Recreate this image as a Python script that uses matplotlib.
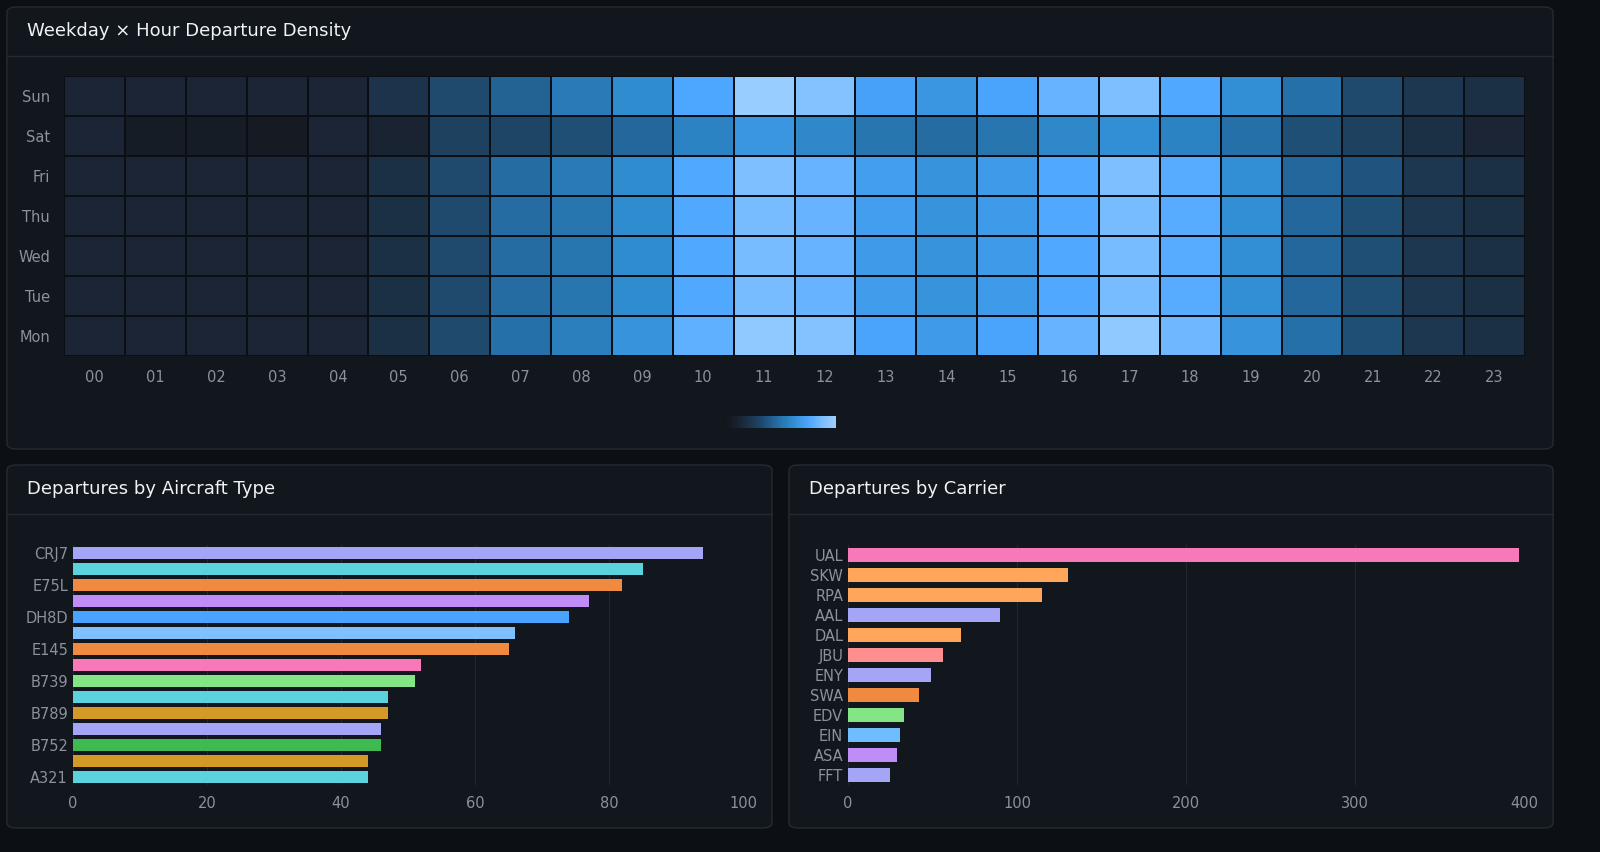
import matplotlib
matplotlib.use("Agg")
import matplotlib.pyplot as plt
import numpy as np
from matplotlib.colors import LinearSegmentedColormap
from matplotlib.patches import FancyBboxPatch

# ---- data ----
days = ["Mon", "Tue", "Wed", "Thu", "Fri", "Sat", "Sun"]
hours = [f"{h:02d}" for h in range(24)]
density = [
    [12, 12, 12, 12, 12, 18, 32, 48, 54, 64, 80, 95, 90, 74, 68, 74, 82, 95, 84, 64, 48, 34, 22, 18],  # Mon
    [12, 12, 12, 12, 12, 18, 32, 46, 50, 60, 76, 86, 82, 69, 64, 68, 76, 86, 78, 62, 44, 34, 22, 18],  # Tue
    [12, 12, 12, 12, 12, 18, 32, 46, 50, 60, 76, 86, 82, 68, 64, 68, 76, 86, 78, 62, 44, 34, 22, 18],  # Wed
    [12, 12, 12, 12, 12, 18, 32, 46, 50, 60, 76, 86, 82, 70, 64, 68, 76, 86, 78, 62, 44, 34, 22, 18],  # Thu
    [12, 12, 12, 12, 12, 18, 32, 46, 52, 60, 76, 88, 82, 70, 64, 68, 76, 88, 78, 62, 44, 36, 22, 18],  # Fri
    [12, 4, 4, 2, 12, 10, 28, 30, 34, 44, 56, 66, 58, 50, 46, 50, 58, 62, 56, 48, 34, 28, 18, 12],     # Sat
    [12, 12, 12, 12, 12, 20, 32, 42, 52, 60, 75, 98, 90, 72, 66, 74, 82, 88, 76, 62, 48, 32, 22, 18],  # Sun
]

aircraft = ["CRJ7", "B738", "E75L", "A320", "DH8D", "E170", "E145", "A319",
            "B739", "B737", "B789", "B38M", "B752", "B772", "A321"]
aircraft_counts = [94, 85, 82, 77, 74, 66, 65, 52, 51, 47, 47, 46, 46, 44, 44]
aircraft_colors = ["#a5a5f5", "#5cd3dc", "#f08a40", "#bf8cf8", "#4aa3ff", "#7fc0ff",
                   "#f08a40", "#f779b8", "#84e584", "#5cd3dc", "#d49a26", "#a5a5f5",
                   "#3fba50", "#d49a26", "#5cd3dc"]

carriers = ["UAL", "SKW", "RPA", "AAL", "DAL", "JBU", "ENY", "SWA", "EDV", "EIN", "ASA", "FFT"]
carrier_counts = [397, 130, 115, 90, 67, 56, 49, 42, 33, 31, 29, 25]
carrier_colors = ["#f779b8", "#ffa65a", "#ffa65a", "#a5a5f5", "#ffa65a", "#ff8f8f",
                  "#a5a5f5", "#f08a40", "#84e584", "#6fbdff", "#bf8cf8", "#a5a5f5"]

BG = "#0c0f14"
PANEL = "#12161d"
BORDER = "#262b33"
TICK = "#8b929c"
W, H = 1600, 852

cmap = LinearSegmentedColormap.from_list("dens", [
    (0.0, "#14181f"), (0.12, "#1b2535"), (0.3, "#1e4566"), (0.45, "#246aa0"),
    (0.6, "#2f8ccf"), (0.75, "#4da6ff"), (0.88, "#7dbfff"), (1.0, "#9dd0ff")])

fig = plt.figure(figsize=(16, 8.52), dpi=100, facecolor=BG)


def rect(x0, y0, x1, y1):
    # pixel box (top-left origin) -> figure fraction [l, b, w, h]
    return [x0 / W, 1 - y1 / H, (x1 - x0) / W, (y1 - y0) / H]


def panel(x0, y0, x1, y1, title):
    l, b, w, h = rect(x0, y0, x1, y1)
    fig.patches.append(FancyBboxPatch((l, b), w, h, boxstyle="round,pad=0,rounding_size=0.006",
                                      transform=fig.transFigure, facecolor=PANEL,
                                      edgecolor=BORDER, lw=1, zorder=-10))
    fig.add_artist(plt.Line2D([l, l + w], [1 - (y0 + 49) / H] * 2, color=BORDER, lw=1,
                              zorder=-5))
    fig.text((x0 + 20) / W, 1 - (y0 + 24) / H, title, color="#f0f3f6", fontsize=13,
             va="center", ha="left")


panel(7, 7, 1553, 449, "Weekday × Hour Departure Density")
panel(7, 465, 772, 828, "Departures by Aircraft Type")
panel(789, 465, 1553, 828, "Departures by Carrier")

# heatmap
ax = fig.add_axes(rect(64, 76, 1525, 356))
ax.pcolormesh(np.array(density), cmap=cmap, vmin=0, vmax=100,
              edgecolors="#0b0e13", linewidth=1.2)
ax.set_xticks(np.arange(24) + 0.5, hours)
ax.set_yticks(np.arange(7) + 0.5, days)
ax.set_xlim(0, 24)
ax.set_ylim(0, 7)
ax.tick_params(colors=TICK, length=0, labelsize=10.5, pad=10)
for s in ax.spines.values():
    s.set_visible(False)

# color legend
cax = fig.add_axes(rect(727, 416, 836, 428))
cax.imshow(np.linspace(0, 1, 200)[None, :], cmap=cmap, aspect="auto")
cax.axis("off")


def bars(box, labels, values, colors, xmax, ticks, height, every):
    a = fig.add_axes(rect(*box))
    a.patch.set_alpha(0)
    y = np.arange(len(labels))
    a.barh(y, values, color=colors, height=height, zorder=3)
    a.set_ylim(len(labels) - 0.5, -0.5)
    a.set_xlim(0, xmax)
    a.set_xticks(ticks)
    a.set_yticks(y[::every], labels[::every])
    a.grid(axis="x", color="#232830", lw=0.8, zorder=0)
    a.tick_params(colors=TICK, length=0, labelsize=10.5)
    a.tick_params(axis="x", pad=8)
    for s in a.spines.values():
        s.set_visible(False)


bars((73, 545, 743, 785), aircraft, aircraft_counts, aircraft_colors, 100,
     [0, 20, 40, 60, 80, 100], 0.72, 2)
bars((848, 545, 1524, 785), carriers, carrier_counts, carrier_colors, 400,
     [0, 100, 200, 300, 400], 0.66, 1)

fig.savefig("out.png", dpi=100, facecolor=BG)
